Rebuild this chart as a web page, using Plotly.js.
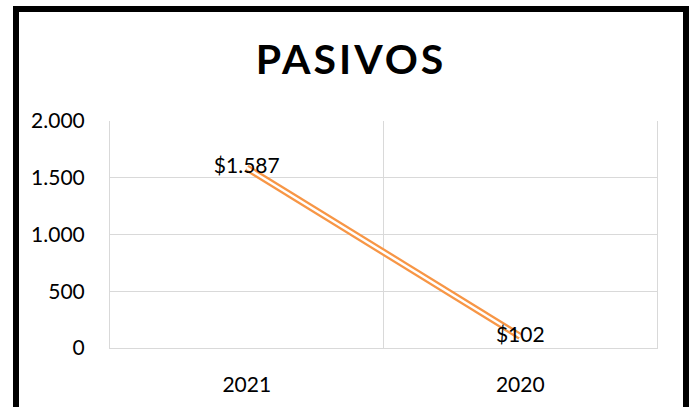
<!DOCTYPE html>
<html>
<head>
<meta charset="utf-8">
<script src="https://cdn.plot.ly/plotly-3.0.1.min.js"></script>
<style>
  html, body { margin: 0; padding: 0; background: #fff; }
  #wrap { position: relative; width: 691px; height: 407px; overflow: hidden; }
  #chart { position: absolute; left: 0; top: 0; width: 691px; height: 407px; }
  #frame { position: absolute; left: 13px; top: 6px; width: 664px; height: 420px; border: 6px solid #000; pointer-events: none; }
  .gtitle { letter-spacing: 3px; }
</style>
</head>
<body>
<div id="wrap">
  <div id="chart"></div>
  <div id="frame"></div>
</div>
<script>
const categories = ["2021", "2020"];
const pasivos = [1587, 102];
const chartTitle = "PASIVOS";

function fmtThousands(v) {
  return String(v).replace(/\B(?=(\d{3})+(?!\d))/g, ".");
}
const labels = pasivos.map(v => "$" + fmtThousands(v));

const orange = "#F79646";
const traces = [
  {
    x: categories, y: pasivos, type: "scatter", mode: "lines",
    line: { color: orange, width: 7 }, hoverinfo: "skip", showlegend: false
  },
  {
    x: categories, y: pasivos, type: "scatter", mode: "lines+text",
    line: { color: "#ffffff", width: 2.5 },
    text: labels, textposition: "middle center",
    textfont: { family: "Lato, sans-serif", size: 21, color: "#000" },
    showlegend: false
  }
];

const layout = {
  width: 691, height: 407,
  margin: { l: 110, r: 34, t: 121, b: 59 },
  paper_bgcolor: "#fff", plot_bgcolor: "#fff",
  separators: ",.",
  showlegend: false,
  font: { family: "Lato, sans-serif", color: "#000" },
  title: {
    text: chartTitle,
    font: { family: "Lato, sans-serif", size: 41, weight: 700, color: "#000" },
    x: 0.508, xanchor: "center", y: 0.853, yanchor: "middle"
  },
  xaxis: {
    type: "category",
    range: [-0.5, 1.5],
    tickson: "boundaries",
    ticks: "",
    showgrid: true, gridcolor: "#d9d9d9", gridwidth: 1,
    showline: true, linecolor: "#d9d9d9", linewidth: 1,
    zeroline: false,
    tickfont: { family: "Lato, sans-serif", size: 21, color: "#000" },
    ticklabelstandoff: 18
  },
  yaxis: {
    range: [0, 2000],
    dtick: 500, tick0: 0,
    separatethousands: true,
    ticks: "",
    showgrid: true, gridcolor: "#d9d9d9", gridwidth: 1,
    showline: true, mirror: true, linecolor: "#d9d9d9", linewidth: 1,
    zeroline: false,
    tickfont: { family: "Lato, sans-serif", size: 21, color: "#000" },
    ticklabelstandoff: 20
  }
};

Plotly.newPlot("chart", traces, layout, { displayModeBar: false, staticPlot: true });
</script>
</body>
</html>
